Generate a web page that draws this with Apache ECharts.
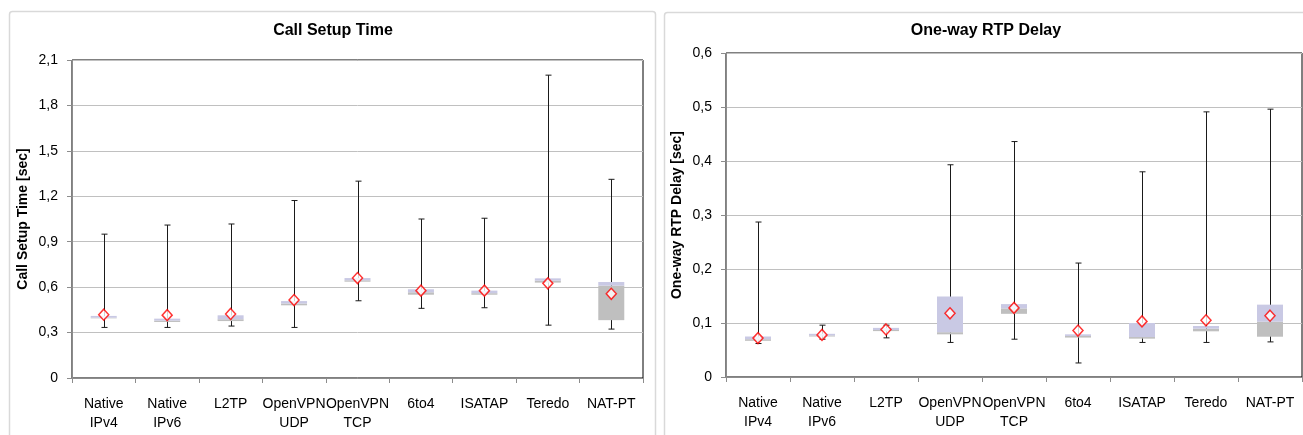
<!DOCTYPE html>
<html>
<head>
<meta charset="utf-8">
<script src="https://cdn.jsdelivr.net/npm/echarts@6/dist/echarts.min.js"></script>
<style>
	html, body { margin: 0; padding: 0; background: #fff; }
	#chart { width: 1303px; height: 435px; }
</style>
</head>
<body>
<div id="chart"></div>
<script>
const categories = [
	'Native\nIPv4', 'Native\nIPv6', 'L2TP', 'OpenVPN\nUDP', 'OpenVPN\nTCP',
	'6to4', 'ISATAP', 'Teredo', 'NAT-PT'
];

// Call Setup Time [sec]
const setupMin  = [0.334, 0.334, 0.343, 0.334, 0.510, 0.460, 0.464, 0.349, 0.323];
const setupQ1   = [0.394, 0.370, 0.376, 0.480, 0.636, 0.550, 0.550, 0.630, 0.382];
const setupMed  = [0.398, 0.379, 0.388, 0.492, 0.645, 0.566, 0.560, 0.643, 0.610];
const setupQ3   = [0.410, 0.392, 0.414, 0.508, 0.660, 0.586, 0.577, 0.658, 0.634];
const setupMax  = [0.950, 1.010, 1.017, 1.172, 1.300, 1.050, 1.055, 2.000, 1.312];
const setupMean = [0.418, 0.415, 0.423, 0.515, 0.660, 0.577, 0.577, 0.625, 0.556];

// One-way RTP Delay [sec]
const delayMin  = [0.062, 0.070, 0.0725, 0.064, 0.070, 0.026, 0.064, 0.064, 0.065];
const delayQ1   = [0.067, 0.075, 0.085, 0.079, 0.117, 0.073, 0.071, 0.0846, 0.0746];
const delayMed  = [0.070, 0.077, 0.087, 0.083, 0.127, 0.076, 0.074, 0.0895, 0.1024];
const delayQ3   = [0.075, 0.080, 0.091, 0.149, 0.135, 0.079, 0.100, 0.0944, 0.134];
const delayMax  = [0.287, 0.096, 0.096, 0.393, 0.436, 0.211, 0.380, 0.491, 0.496];
const delayMean = [0.072, 0.078, 0.088, 0.118, 0.128, 0.086, 0.103, 0.105, 0.1135];

const setupTicks = { min: 0, max: 2.1, interval: 0.3 };
const delayTicks = { min: 0, max: 0.6, interval: 0.1 };

const plain = "'Liberation Sans', Arial, sans-serif";

var chart = echarts.init(document.getElementById('chart'), null, { renderer: 'canvas' });

function commaLabel(v) {
	if (v === 0) return '0';
	return v.toFixed(1).replace('.', ',');
}

function whiskerItem(params, api) {
	var x = api.value(0);
	var top = api.coord([x, api.value(2)]);
	var bot = api.coord([x, api.value(1)]);
	var cx = Math.round(top[0]) + 0.5;
	var style = { stroke: '#1a1a1a', lineWidth: 1 };
	return {
		type: 'group',
		children: [
			{ type: 'line', shape: { x1: cx, y1: top[1], x2: cx, y2: bot[1] }, style: style },
			{ type: 'line', shape: { x1: cx - 3, y1: top[1], x2: cx + 3, y2: top[1] }, style: style },
			{ type: 'line', shape: { x1: cx - 3, y1: bot[1], x2: cx + 3, y2: bot[1] }, style: style }
		]
	};
}

// box = invisible base (Q1) + gray (Q1..median) + lavender (median..Q3)
function panelSeries(idx, mins, q1, med, q3, maxs, means) {
	var whisk = categories.map(function (c, i) { return [i, mins[i], maxs[i]]; });
	var lower = q1.map(function (v, i) { return +(med[i] - v).toFixed(4); });
	var upper = med.map(function (v, i) { return +(q3[i] - v).toFixed(4); });
	return [
		{
			type: 'custom',
			xAxisIndex: idx, yAxisIndex: idx,
			renderItem: whiskerItem,
			data: whisk,
			z: 2,
			silent: true
		},
		{
			type: 'bar', stack: 'box' + idx,
			xAxisIndex: idx, yAxisIndex: idx,
			barWidth: 26,
			itemStyle: { color: 'transparent' },
			data: q1,
			z: 3, silent: true
		},
		{
			type: 'bar', stack: 'box' + idx,
			xAxisIndex: idx, yAxisIndex: idx,
			barWidth: 26,
			itemStyle: { color: '#bfbfbf' },
			data: lower,
			z: 3, silent: true
		},
		{
			type: 'bar', stack: 'box' + idx,
			xAxisIndex: idx, yAxisIndex: idx,
			barWidth: 26,
			itemStyle: { color: '#c9c9e4' },
			data: upper,
			z: 3, silent: true
		},
		{
			type: 'scatter',
			xAxisIndex: idx, yAxisIndex: idx,
			symbol: 'diamond',
			symbolSize: [10, 11],
			itemStyle: { color: '#fff', borderColor: '#ff0000', borderWidth: 1.5 },
			data: means,
			z: 4, silent: true
		}
	];
}

function xAxisFor(idx) {
	return {
		type: 'category',
		gridIndex: idx,
		data: categories,
		axisLine: { lineStyle: { color: '#8c8c8c', width: 1 } },
		axisTick: { show: true, length: 5, lineStyle: { color: '#8c8c8c' } },
		axisLabel: {
			color: '#000', fontFamily: plain, fontSize: 14,
			margin: 17, lineHeight: 19, interval: 0
		}
	};
}

function yAxisFor(idx, ticks, name, gap) {
	return {
		type: 'value',
		gridIndex: idx,
		min: ticks.min, max: ticks.max, interval: ticks.interval,
		name: name,
		nameLocation: 'middle',
		nameRotate: 90,
		nameGap: gap,
		nameTextStyle: { color: '#000', fontFamily: plain, fontWeight: 'bold', fontSize: 14 },
		axisLine: { show: true, lineStyle: { color: '#8c8c8c', width: 1 } },
		axisTick: { show: true, length: 5, lineStyle: { color: '#8c8c8c' } },
		axisLabel: {
			color: '#000', fontFamily: plain, fontSize: 14, margin: 14,
			formatter: commaLabel
		},
		splitLine: { lineStyle: { color: '#c0c0c0', width: 1 } }
	};
}

var option = {
	animation: false,
	backgroundColor: '#fff',
	graphic: [
		{ type: 'rect', shape: { x: 9.5, y: 11.5, width: 646, height: 440, r: 3 },
			style: { fill: 'none', stroke: '#d9d9d9', lineWidth: 1.5 }, z: -1 },
		{ type: 'rect', shape: { x: 664.5, y: 12.5, width: 660, height: 440, r: 3 },
			style: { fill: 'none', stroke: '#d9d9d9', lineWidth: 1.5 }, z: -1 }
	],
	title: [
		{
			text: 'Call Setup Time',
			left: 328, top: 18, textAlign: 'center',
			textStyle: { color: '#000', fontFamily: plain, fontWeight: 'bold', fontSize: 16 }
		},
		{
			text: 'One-way RTP Delay',
			left: 981, top: 18, textAlign: 'center',
			textStyle: { color: '#000', fontFamily: plain, fontWeight: 'bold', fontSize: 16 }
		}
	],
	grid: [
		{ left: 72, top: 60, width: 571, height: 318, show: true, borderColor: '#000', borderWidth: 1, backgroundColor: 'transparent' },
		{ left: 726, top: 53, width: 576, height: 324, show: true, borderColor: '#000', borderWidth: 1, backgroundColor: 'transparent' }
	],
	xAxis: [xAxisFor(0), xAxisFor(1)],
	yAxis: [
		yAxisFor(0, setupTicks, 'Call Setup Time [sec]', 42),
		yAxisFor(1, delayTicks, 'One-way RTP Delay [sec]', 42)
	],
	series: panelSeries(0, setupMin, setupQ1, setupMed, setupQ3, setupMax, setupMean)
		.concat(panelSeries(1, delayMin, delayQ1, delayMed, delayQ3, delayMax, delayMean))
};

chart.setOption(option);
</script>
</body>
</html>
